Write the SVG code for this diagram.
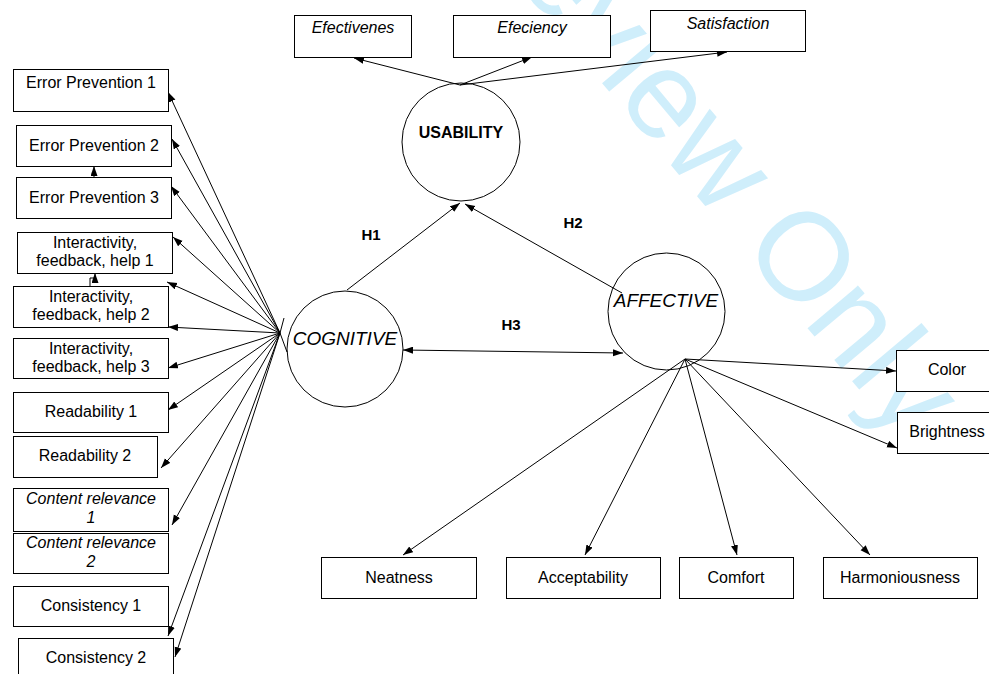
<svg xmlns="http://www.w3.org/2000/svg" width="989" height="674" viewBox="0 0 989 674">
<style>
.box{fill:#fff;stroke:#000;stroke-width:1}
.circ{fill:none;stroke:#000;stroke-width:1}
.t{font-family:"Liberation Sans",Arial,sans-serif;font-size:16px;fill:#000;text-anchor:middle}
.it{font-style:italic}
.lat{font-family:"Liberation Sans",Arial,sans-serif;font-size:19px;font-style:italic;fill:#000;text-anchor:middle}
.b{font-family:"Liberation Sans",Arial,sans-serif;font-weight:bold;fill:#000;text-anchor:middle}
.ln{fill:none;stroke:#000;stroke-width:1}
.wm{font-family:"Liberation Sans",Arial,sans-serif;font-size:125px;fill:#cfeefb}
</style>
<defs>
<marker id="ah" markerUnits="userSpaceOnUse" markerWidth="11" markerHeight="8" refX="10" refY="3.5" orient="auto">
<path d="M0,0 L10,3.5 L0,7 z" fill="#000"/>
</marker>
<marker id="ahs" markerUnits="userSpaceOnUse" markerWidth="11" markerHeight="8" refX="0" refY="3.5" orient="auto">
<path d="M10,0 L0,3.5 L10,7 z" fill="#000"/>
</marker>
</defs>
<rect width="989" height="674" fill="#fff"/>
<text class="wm" transform="translate(805,255) rotate(50)" x="-715" y="45">For Review Only</text>

<g id="connectors">
<line class="ln" x1="460" y1="85" x2="354" y2="58" marker-end="url(#ah)"/>
<line class="ln" x1="460" y1="85" x2="532" y2="57" marker-end="url(#ah)"/>
<line class="ln" x1="460" y1="85" x2="727" y2="52" marker-end="url(#ah)"/>
<line class="ln" x1="347" y1="290" x2="460" y2="203" marker-end="url(#ah)"/>
<line class="ln" x1="622" y1="293" x2="465" y2="204" marker-end="url(#ah)"/>
<line class="ln" x1="403" y1="350" x2="623" y2="353" marker-start="url(#ahs)" marker-end="url(#ah)"/>
<polyline class="ln" points="284,318 280,333 287,352"/>
<line class="ln" x1="280" y1="333" x2="168" y2="92" marker-end="url(#ah)"/>
<line class="ln" x1="280" y1="333" x2="172" y2="139" marker-end="url(#ah)"/>
<line class="ln" x1="280" y1="333" x2="171" y2="186" marker-end="url(#ah)"/>
<line class="ln" x1="280" y1="333" x2="173" y2="237" marker-end="url(#ah)"/>
<line class="ln" x1="280" y1="333" x2="167" y2="282" marker-end="url(#ah)"/>
<line class="ln" x1="280" y1="333" x2="168" y2="327" marker-end="url(#ah)"/>
<line class="ln" x1="280" y1="333" x2="168" y2="368" marker-end="url(#ah)"/>
<line class="ln" x1="280" y1="333" x2="168" y2="410" marker-end="url(#ah)"/>
<line class="ln" x1="280" y1="333" x2="161" y2="468" marker-end="url(#ah)"/>
<line class="ln" x1="280" y1="333" x2="172" y2="525" marker-end="url(#ah)"/>
<line class="ln" x1="280" y1="333" x2="168" y2="636" marker-end="url(#ah)"/>
<line class="ln" x1="280" y1="333" x2="175" y2="657" marker-end="url(#ah)"/>
<line class="ln" x1="94" y1="177" x2="94" y2="166" marker-end="url(#ah)"/>
<polyline class="ln" points="90,286 90,278 95,278 95,273" marker-end="url(#ah)"/>
<line class="ln" x1="685" y1="359" x2="896" y2="371" marker-end="url(#ah)"/>
<line class="ln" x1="685" y1="359" x2="897" y2="448" marker-end="url(#ah)"/>
<line class="ln" x1="685" y1="359" x2="403" y2="555" marker-end="url(#ah)"/>
<line class="ln" x1="685" y1="359" x2="585" y2="555" marker-end="url(#ah)"/>
<line class="ln" x1="685" y1="359" x2="737" y2="555" marker-end="url(#ah)"/>
<line class="ln" x1="685" y1="359" x2="870" y2="555" marker-end="url(#ah)"/>
</g>

<g id="usability"><circle class="circ" cx="461" cy="142" r="59"/><text class="b" x="461" y="138" font-size="16">USABILITY</text></g>
<g id="cognitive"><circle class="circ" cx="345" cy="349" r="58"/><text class="lat" x="345" y="345">COGNITIVE</text></g>
<g id="affective"><circle class="circ" cx="666.5" cy="311.5" r="58.5"/><text class="lat" x="666" y="307">AFFECTIVE</text></g>

<g id="h-labels">
<text class="b" x="371" y="240" font-size="15">H1</text>
<text class="b" x="573" y="228" font-size="15">H2</text>
<text class="b" x="511" y="330" font-size="15">H3</text>
</g>

<g id="efectivenes"><rect class="box" x="294.5" y="15.5" width="117" height="42"/><text class="t it" x="353" y="33">Efectivenes</text></g>
<g id="efeciency"><rect class="box" x="453.5" y="15.5" width="157" height="42"/><text class="t it" x="532" y="33">Efeciency</text></g>
<g id="satisfaction"><rect class="box" x="650.5" y="10.5" width="155" height="41"/><text class="t it" x="728" y="29">Satisfaction</text></g>

<g id="ep1"><rect class="box" x="13.5" y="69.5" width="155" height="42"/><text class="t" x="91" y="88">Error Prevention 1</text></g>
<g id="ep2"><rect class="box" x="16.5" y="125.5" width="155" height="41"/><text class="t" x="94" y="151">Error Prevention 2</text></g>
<g id="ep3"><rect class="box" x="16.5" y="177.5" width="155" height="41"/><text class="t" x="94" y="203">Error Prevention 3</text></g>
<g id="ifh1"><rect class="box" x="17.5" y="232.5" width="155" height="41"/><text class="t" x="95" y="248">Interactivity,</text><text class="t" x="95" y="266">feedback, help 1</text></g>
<g id="ifh2"><rect class="box" x="13.5" y="286.5" width="155" height="41"/><text class="t" x="91" y="302">Interactivity,</text><text class="t" x="91" y="320">feedback, help 2</text></g>
<g id="ifh3"><rect class="box" x="13.5" y="338.5" width="155" height="40"/><text class="t" x="91" y="354">Interactivity,</text><text class="t" x="91" y="372">feedback, help 3</text></g>
<g id="read1"><rect class="box" x="13.5" y="392.5" width="155" height="40"/><text class="t" x="91" y="417">Readability 1</text></g>
<g id="read2"><rect class="box" x="13.5" y="436.5" width="144" height="41"/><text class="t" x="85" y="461">Readability 2</text></g>
<g id="cr1"><rect class="box" x="13.5" y="488.5" width="155" height="43"/><text class="t it" x="91" y="504">Content relevance</text><text class="t it" x="91" y="523">1</text></g>
<g id="cr2"><rect class="box" x="13.5" y="533.5" width="155" height="40"/><text class="t it" x="91" y="548">Content relevance</text><text class="t it" x="91" y="567">2</text></g>
<g id="cons1"><rect class="box" x="13.5" y="586.5" width="155" height="40"/><text class="t" x="91" y="611">Consistency 1</text></g>
<g id="cons2"><rect class="box" x="18.5" y="638.5" width="155" height="45"/><text class="t" x="96" y="663">Consistency 2</text></g>

<g id="color"><rect class="box" x="896.5" y="350.5" width="110" height="41"/><text class="t" x="947" y="375">Color</text></g>
<g id="brightness"><rect class="box" x="897.5" y="412.5" width="110" height="41"/><text class="t" x="947" y="437">Brightness</text></g>

<g id="neatness"><rect class="box" x="321.5" y="557.5" width="155" height="41"/><text class="t" x="399" y="583">Neatness</text></g>
<g id="acceptability"><rect class="box" x="506.5" y="557.5" width="154" height="41"/><text class="t" x="583" y="583">Acceptability</text></g>
<g id="comfort"><rect class="box" x="679.5" y="557.5" width="114" height="41"/><text class="t" x="736" y="583">Comfort</text></g>
<g id="harmoniousness"><rect class="box" x="823.5" y="557.5" width="154" height="41"/><text class="t" x="900" y="583">Harmoniousness</text></g>
</svg>
